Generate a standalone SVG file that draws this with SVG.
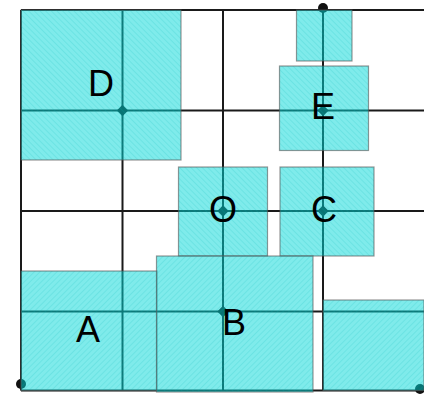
<svg xmlns="http://www.w3.org/2000/svg" width="424" height="397" viewBox="0 0 424 397">
<defs>
<pattern id="hf" width="4" height="4" patternUnits="userSpaceOnUse" patternTransform="rotate(-45)">
<rect width="4" height="4" fill="#00d8d8" fill-opacity="0.5"/>
<line x1="0" y1="0" x2="0" y2="4" stroke="#00b0b0" stroke-opacity="0.25" stroke-width="1.2"/>
</pattern>
<pattern id="hb" width="4" height="4" patternUnits="userSpaceOnUse" patternTransform="rotate(45)">
<rect width="4" height="4" fill="#00d8d8" fill-opacity="0.5"/>
<line x1="0" y1="0" x2="0" y2="4" stroke="#00b0b0" stroke-opacity="0.25" stroke-width="1.2"/>
</pattern>
<style>
.g{stroke:#1a1a1a;stroke-width:2;fill:none}
.bf{fill:url(#hf);stroke:#555;stroke-opacity:0.6;stroke-width:1.2}
.bb{fill:url(#hb);stroke:#555;stroke-opacity:0.6;stroke-width:1.2}
.t{font-family:"Liberation Sans",Arial,sans-serif;font-size:36px;fill:#000;text-anchor:middle}
.d{fill:#111}
</style>
</defs>
<rect width="424" height="397" fill="#fff"/>
<g id="connectors">
<line class="g" x1="21" y1="10" x2="424" y2="10"/>
<line class="g" x1="21" y1="110.5" x2="424" y2="110.5"/>
<line class="g" x1="21" y1="211" x2="424" y2="211"/>
<line class="g" x1="21" y1="311.5" x2="424" y2="311.5"/>
<line class="g" x1="21" y1="390.5" x2="424" y2="390.5"/>
<line class="g" x1="21" y1="10" x2="21" y2="390.5"/>
<line class="g" x1="122.5" y1="10" x2="122.5" y2="390.5"/>
<line class="g" x1="223" y1="10" x2="223" y2="390.5"/>
<line class="g" x1="323" y1="10" x2="323" y2="390.5"/>
</g>
<g id="dots">
<circle class="d" cx="21" cy="384" r="5"/>
<circle class="d" cx="420" cy="389" r="5"/>
<circle class="d" cx="323" cy="8" r="5"/>
<rect class="d" x="118.5" y="106.5" width="8" height="8" transform="rotate(45 122.5 110.5)"/>
<rect class="d" x="319" y="106.5" width="8" height="8" transform="rotate(45 323 110.5)"/>
<rect class="d" x="219" y="207" width="8" height="8" transform="rotate(45 223 211)"/>
<rect class="d" x="319" y="207" width="8" height="8" transform="rotate(45 323 211)"/>
<rect class="d" x="219" y="307.5" width="8" height="8" transform="rotate(45 223 311.5)"/>
</g>
<g id="node-D">
<rect class="bf" x="21" y="10" width="160" height="150"/>
<text class="t" x="101" y="96">D</text>
</g>
<g id="node-top">
<rect class="bf" x="296.5" y="10" width="55.5" height="51"/>
</g>
<g id="node-E">
<rect class="bf" x="279.5" y="66" width="89" height="84.5"/>
<text class="t" x="323" y="119">E</text>
</g>
<g id="node-O">
<rect class="bf" x="178.5" y="167" width="89" height="89"/>
<text class="t" x="223" y="222">O</text>
</g>
<g id="node-C">
<rect class="bf" x="280" y="167" width="94" height="89"/>
<text class="t" x="324" y="222">C</text>
</g>
<g id="node-A">
<rect class="bb" x="21" y="271" width="136" height="119.5"/>
<text class="t" x="88" y="342">A</text>
</g>
<g id="node-B">
<rect class="bb" x="156.5" y="256" width="156.5" height="136"/>
<text class="t" x="234" y="335">B</text>
</g>
<g id="node-R">
<rect class="bb" x="323" y="300" width="101" height="90.5"/>
</g>
</svg>
